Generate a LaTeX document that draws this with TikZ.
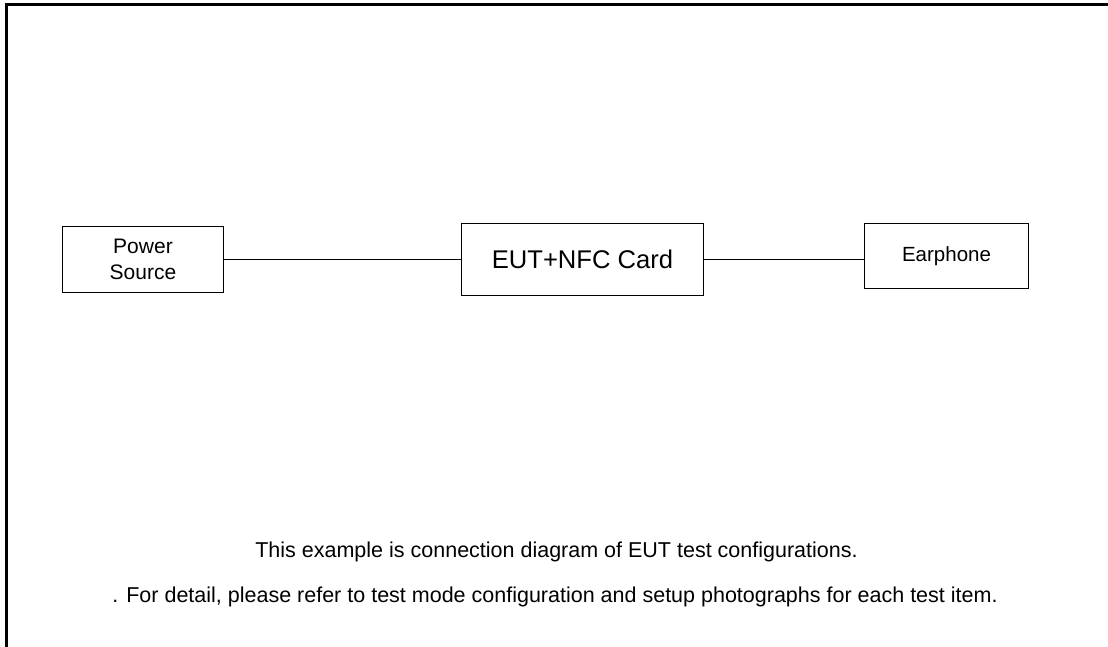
\documentclass[tikz,border=0pt]{standalone}
\usepackage{fontspec}
\setmainfont{Liberation Sans}
\usetikzlibrary{positioning}

\begin{document}
\begin{tikzpicture}[x=1pt,y=-1pt,
    blk/.style={draw,rectangle,line width=1.2pt,inner sep=0pt,align=center},
    note/.style={anchor=base,inner sep=0pt,font=\fontsize{21.5}{25}\selectfont}]

  \useasboundingbox (0,0) rectangle (1108,647);
  \draw [line width=2.4pt] (6.5,647) -- (6.5,4.7) -- (1108,4.7);

  \node [blk,minimum width=161pt,minimum height=66pt,font=\fontsize{21}{26}\selectfont]
    (P_src) at (143,259.5) {Power\\Source};
  \node [blk,minimum width=242pt,minimum height=72pt,font=\fontsize{25.6}{30}\selectfont]
    (Eut) at (582.5,259.5) {EUT+NFC Card};
  \node [blk,minimum width=164pt,minimum height=65pt,font=\fontsize{20.5}{24}\selectfont]
    (Ear) at (946.5,256) {Earphone};

  \path [draw,line width=1.3pt]
    (P_src.east) edge (Eut.west)
    (Eut.east)   edge (Ear.west |- Eut.east);

  \node [note] (Note_a) at (556.5,557) {This example is connection diagram of EUT test configurations.};
  \node [note] (Note_b) at (555,602) {. For detail, please refer to test mode configuration and setup photographs for each test item.};

\end{tikzpicture}
\end{document}
